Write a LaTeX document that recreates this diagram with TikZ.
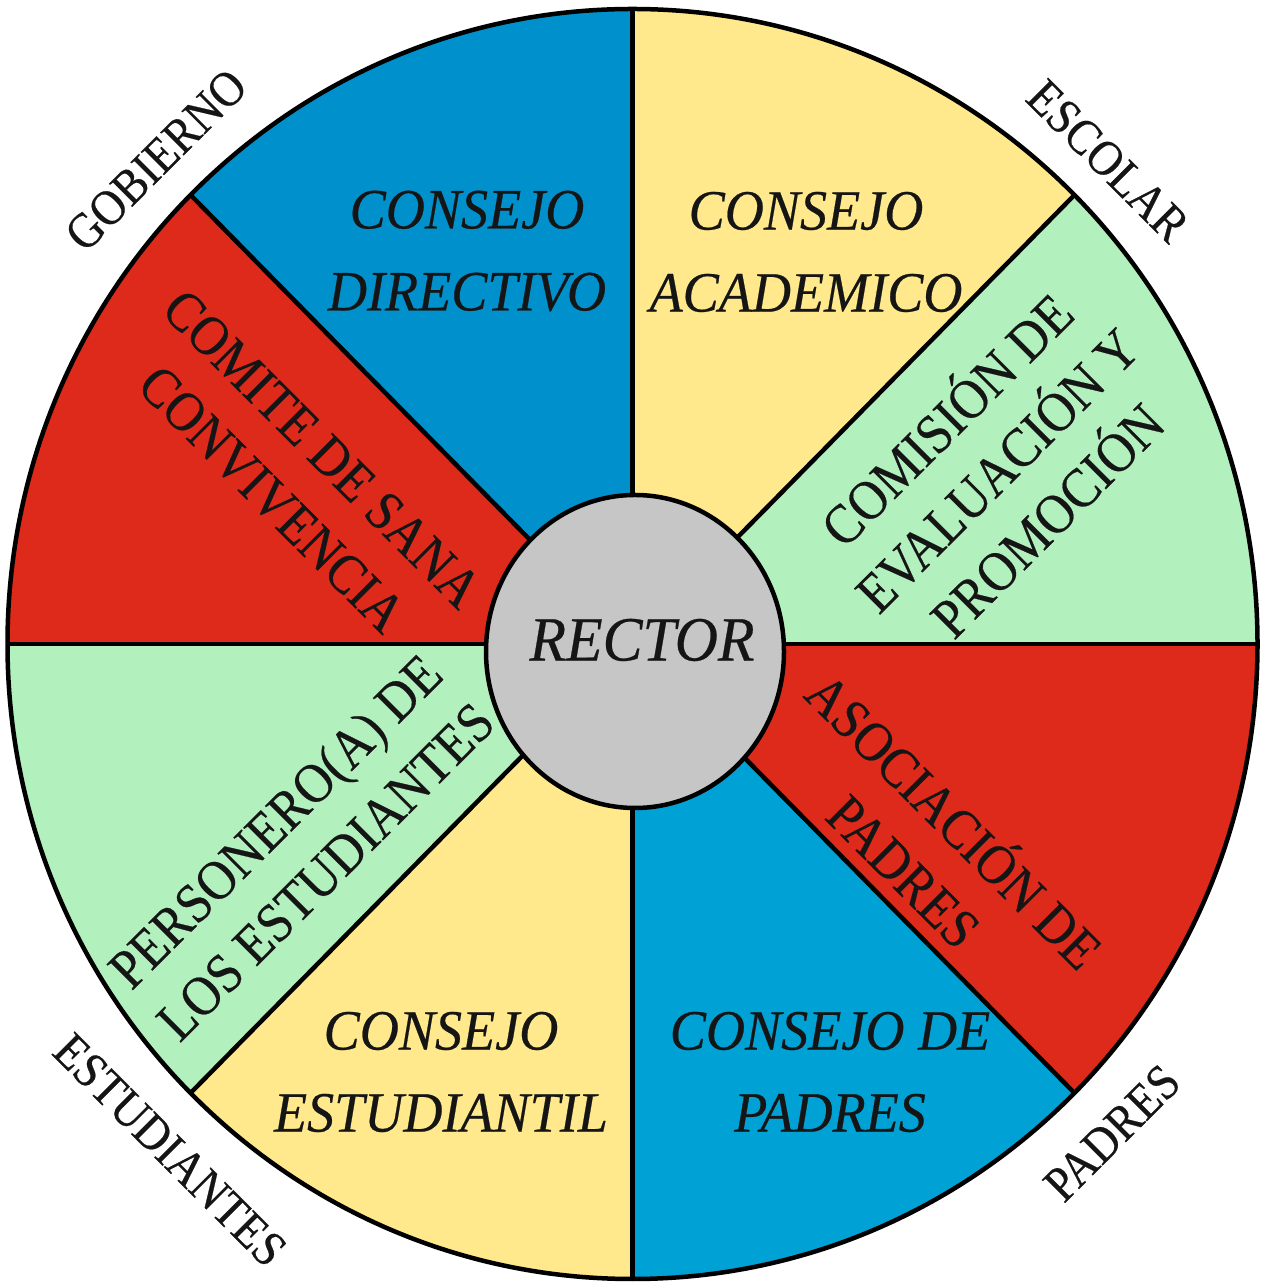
\documentclass[tikz,border=0pt]{standalone}
\usepackage{fontspec}
\setmainfont{Liberation Serif}[FakeStretch=0.9,FakeBold=0.4]
\newfontfamily\slantfont{Liberation Serif Italic}[FakeStretch=0.95,FakeBold=0.4]
\usetikzlibrary{shapes.geometric,calc}
\definecolor{cblue}{HTML}{0091CD}
\definecolor{cbluelt}{HTML}{00A2D5}
\definecolor{cred}{HTML}{DD2A1B}
\definecolor{cyellow}{HTML}{FFE98C}
\definecolor{cgreen}{HTML}{B2F0BE}
\definecolor{cgray}{HTML}{C6C6C6}
\definecolor{ink}{HTML}{151515}
\begin{document}
\begin{tikzpicture}[x=1pt,y=1pt,
  edge/.style={draw=black,line width=4.5pt},
  rlbl/.style={font=\fontsize{56}{71}\selectfont,align=center,inner sep=0pt,text=ink},
  hlbl/.style={font=\slantfont\fontsize{57}{82}\selectfont,align=center,inner sep=0pt,text=ink},
  outer/.style={font=\fontsize{50}{50}\selectfont,inner sep=0pt,text=ink}]
\useasboundingbox (0,0) rectangle (1262,1282);
\fill[white] (0,0) rectangle (1262,1282);
\coordinate (c) at (632.5,638);
% sectors
\foreach \a/\col in {90/cblue,135/cred,180/cgreen,225/cyellow,270/cbluelt,315/cred,0/cgreen,45/cyellow}{
  \fill[\col] (c) -- ++(\a:625 and 635) arc[start angle=\a,delta angle=45,x radius=625,y radius=635] -- cycle;
}
% dividers
\foreach \a in {0,45,90,135}{
  \draw[edge] ($(c)+(\a:625 and 635)$) -- ($(c)+(\a+180:625 and 635)$);
}
\draw[edge] (c) ellipse[x radius=625,y radius=635];
% centre
\node[ellipse,draw=black,line width=4.5pt,fill=cgray,minimum width=298,minimum height=313,inner sep=0pt] (hub) at (635,630.5) {};
\node[font=\slantfont\fontsize{63}{63}\selectfont,inner sep=0pt,text=ink] (rector) at (642,642) {RECTOR};
% horizontal labels
\node[hlbl] (directivo) at (467,1031) {CONSEJO\\DIRECTIVO};
\node[hlbl] (academico) at (806,1030) {CONSEJO\\ACADEMICO};
\node[hlbl] (estudiantil) at (441,210) {CONSEJO\\ESTUDIANTIL};
\node[hlbl] (cpadres) at (830,210) {CONSEJO DE\\PADRES};
% rotated labels
\node[rlbl,rotate=-45] (comite) at (297,808) {COMITE DE SANA\\CONVIVENCIA};
\node[rlbl,rotate=45] (comision) at (994,815) {COMISIÓN DE\\EVALUACIÓN Y\\PROMOCIÓN};
\node[rlbl,rotate=-45] (asociacion) at (932,439) {ASOCIACIÓN DE\\PADRES};
\node[rlbl,rotate=45] (personero) at (300,436) {PERSONERO(A) DE\\LOS ESTUDIANTES};
% outer labels
\node[outer,rotate=45] (gobierno) at (156,1122) {GOBIERNO};
\node[outer,rotate=-45] (escolar) at (1108,1121) {ESCOLAR};
\node[outer,rotate=45] (padres) at (1112,149) {PADRES};
\node[outer,rotate=-45] (estudiantes) at (170,132) {ESTUDIANTES};
\end{tikzpicture}
\end{document}
